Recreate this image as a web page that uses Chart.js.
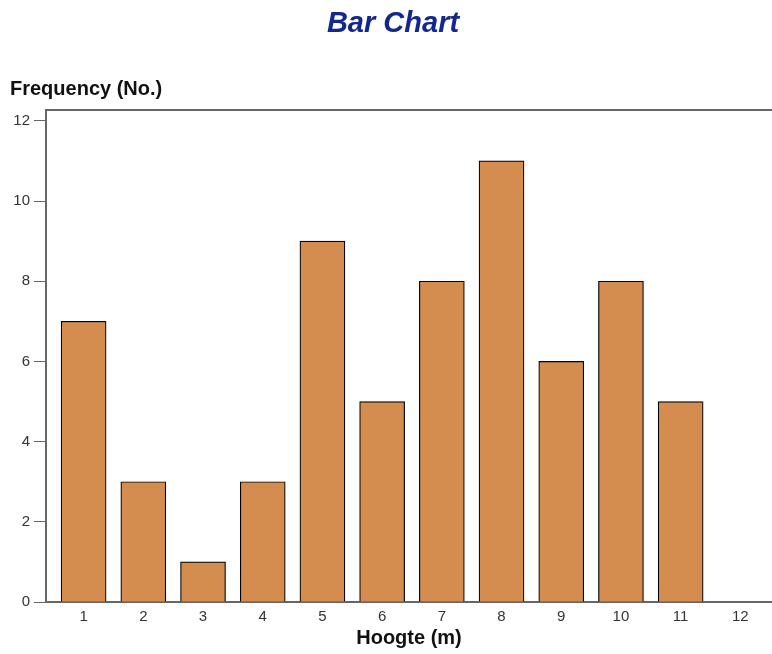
<!DOCTYPE html>
<html>
<head>
<meta charset="utf-8">
<script src="https://cdn.jsdelivr.net/npm/chart.js@4/dist/chart.umd.min.js"></script>
<style>
  html, body { margin: 0; padding: 0; background: #fff; }
  #wrap { width: 772px; height: 654px; position: relative; }
</style>
</head>
<body>
<div id="wrap"><canvas id="c"></canvas></div>
<script>
const categories = [1, 2, 3, 4, 5, 6, 7, 8, 9, 10, 11, 12];
const frequency = [7, 3, 1, 3, 9, 5, 8, 11, 6, 8, 5, 0];
const yTicks = [0, 2, 4, 6, 8, 10, 12];
const chartTitle = 'Bar Chart';
const yTitle = 'Frequency (No.)';
const xTitle = 'Hoogte (m)';

const FONT = '"Liberation Sans", Arial, sans-serif';

const titlesPlugin = {
  id: 'titles',
  afterDraw(chart) {
    const ctx = chart.ctx;
    const a = chart.chartArea;
    ctx.save();
    ctx.font = 'italic bold 29px ' + FONT;
    ctx.fillStyle = '#13288C';
    ctx.textAlign = 'center';
    ctx.textBaseline = 'middle';
    ctx.fillText(chartTitle, 393, 24);
    ctx.font = 'bold 20px ' + FONT;
    ctx.fillStyle = '#111';
    ctx.textAlign = 'left';
    ctx.fillText(yTitle, 10, 89);
    ctx.strokeStyle = '#666';
    ctx.lineWidth = 2;
    ctx.beginPath();
    ctx.moveTo(a.left - 1, a.top);
    ctx.lineTo(a.right, a.top);
    ctx.stroke();
    ctx.restore();
  }
};

new Chart(document.getElementById('c'), {
  type: 'bar',
  data: {
    datasets: [{
      data: categories.map((c, i) => ({ x: c, y: frequency[i] })),
      backgroundColor: '#D48C4F',
      borderColor: '#000',
      borderWidth: 1.2,
      borderSkipped: 'bottom',
      barThickness: 45
    }]
  },
  plugins: [titlesPlugin],
  options: {
    responsive: true,
    maintainAspectRatio: false,
    animation: false,
    layout: { padding: { top: 110, right: 0, left: 0, bottom: 0 } },
    plugins: { legend: { display: false }, tooltip: { enabled: false } },
    scales: {
      x: {
        type: 'linear',
        offset: false,
        min: 0.37,
        max: 12.53,
        afterBuildTicks(scale) { scale.ticks = categories.map(v => ({ value: v })); },
        afterFit(scale) { scale.height = 52; },
        grid: { display: false, drawTicks: false, offset: false },
        border: { display: true, color: '#666', width: 2 },
        ticks: { color: '#333', font: { family: FONT, size: 15 }, padding: 6, autoSkip: false,
                 callback: v => String(v) },
        title: { display: true, text: xTitle, color: '#111',
                 font: { family: FONT, size: 20, weight: 'bold' }, padding: { top: 4, bottom: 4 } }
      },
      y: {
        min: 0,
        max: 12.27,
        afterBuildTicks(scale) { scale.ticks = yTicks.map(v => ({ value: v })); },
        afterFit(scale) { scale.width = 46; },
        grid: { display: true, drawOnChartArea: false, drawTicks: true, tickLength: 12, color: '#666', lineWidth: 1 },
        border: { display: true, color: '#666', width: 2 },
        ticks: { color: '#333', font: { family: FONT, size: 15 }, padding: 4, callback: v => String(v) }
      }
    }
  }
});
</script>
</body>
</html>
